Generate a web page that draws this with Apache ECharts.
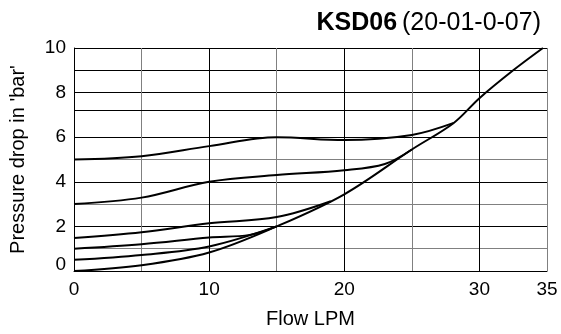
<!DOCTYPE html>
<html>
<head>
<meta charset="utf-8">
<script src="https://cdn.jsdelivr.net/npm/echarts@6/dist/echarts.min.js"></script>
<style>
  html, body { margin: 0; padding: 0; background: #fff; }
  #chart { width: 561px; height: 334px; }
</style>
</head>
<body>
<div id="chart"></div>
<script>
// tick labels shown on the axes
let xTickLabels = [0, 10, 20, 30, 35];
let yTickLabels = [0, 2, 4, 6, 8, 10];

// curves (flow LPM / pressure drop bar)
let flowMain = [0, 5, 10, 15, 20, 25, 28.1, 30, 32.5, 34.7];
let dropMain = [0, 0.26, 0.83, 2.0, 3.44, 5.45, 6.64, 7.75, 9.0, 10];

let flowA = [0, 5, 10, 15, 20, 25, 28.1];
let dropA = [5.0, 5.15, 5.6, 6.0, 5.87, 6.1, 6.64];

let flowB = [0, 5, 10, 15, 20, 23, 25];
let dropB = [3.0, 3.29, 4.0, 4.3, 4.52, 4.8, 5.45];

let flowC = [0, 5, 10, 15, 19];
let dropC = [1.48, 1.74, 2.14, 2.42, 3.13];

let flowD = [0, 5, 10, 13, 15];
let dropD = [1.0, 1.2, 1.5, 1.62, 2.0];

let flowE = [0, 5, 10, 15];
let dropE = [0.5, 0.72, 1.1, 2.0];

function pairs(xs, ys) {
    return xs.map((x, i) => [x, ys[i]]);
}

function curve(xs, ys) {
    return {
        type: 'line',
        data: pairs(xs, ys),
        smooth: 0.35,
        showSymbol: false,
        lineStyle: { color: '#000', width: 2 },
        z: 5
    };
}

window.onload = function() {
    let myChart = echarts.init(document.getElementById('chart'));
    let font = 'Liberation Sans, Arial, sans-serif';

    let series = [
        curve(flowMain, dropMain),
        curve(flowA, dropA),
        curve(flowB, dropB),
        curve(flowC, dropC),
        curve(flowD, dropD),
        curve(flowE, dropE)
    ];
    // the 7-bar grid line sits a bit high in the original
    series[0].markLine = {
        silent: true,
        symbol: 'none',
        label: { show: false },
        lineStyle: { color: '#000', width: 1, type: 'solid' },
        data: [{ yAxis: 7.22 }],
        z: 1
    };

    let option = {
        animation: false,
        title: {
            text: '{b|KSD06} {n|(20-01-0-07)}',
            right: 15,
            top: 6,
            textStyle: {
                fontWeight: 'normal',
                rich: {
                    b: { fontFamily: font, fontSize: 25, fontWeight: 'bold', color: '#000' },
                    n: { fontFamily: font, fontSize: 25, fontWeight: 'normal', color: '#000' }
                }
            }
        },
        grid: { left: 74, right: 14, top: 48, bottom: 62, containLabel: false },
        xAxis: {
            type: 'value',
            min: 0,
            max: 35,
            interval: 5,
            name: 'Flow LPM',
            nameLocation: 'middle',
            nameGap: 38,
            nameTextStyle: { fontFamily: font, fontSize: 20, color: '#000' },
            axisLine: { show: true, lineStyle: { color: '#000', width: 1 } },
            axisTick: { show: false },
            axisLabel: {
                fontFamily: font,
                fontSize: 19,
                color: '#000',
                margin: 9,
                formatter: v => xTickLabels.includes(v) ? String(v) : ''
            },
            splitLine: {
                show: true,
                lineStyle: { color: ['#000', '#808080'], width: 1 }
            }
        },
        yAxis: {
            type: 'value',
            min: 0,
            max: 10,
            interval: 1,
            name: "Pressure drop in 'bar'",
            nameLocation: 'middle',
            nameGap: 46,
            nameTextStyle: { fontFamily: font, fontSize: 20, color: '#000' },
            axisLine: { show: true, lineStyle: { color: '#000', width: 1 } },
            axisTick: { show: false },
            axisLabel: {
                fontFamily: font,
                fontSize: 19,
                color: '#000',
                margin: 8,
                formatter: v => v === 0 ? '{z|0}' : (yTickLabels.includes(v) ? String(v) : ''),
                rich: {
                    z: { fontFamily: font, fontSize: 19, color: '#000', padding: [0, 0, 12, 0] }
                }
            },
            splitLine: {
                show: true,
                lineStyle: {
                    color: ['#000', '#808080', '#000', '#808080', '#000', '#808080',
                            '#000', 'rgba(0,0,0,0)', '#000', '#000', '#000'],
                    width: 1
                }
            }
        },
        series: series
    };
    myChart.setOption(option);
};
</script>
</body>
</html>
